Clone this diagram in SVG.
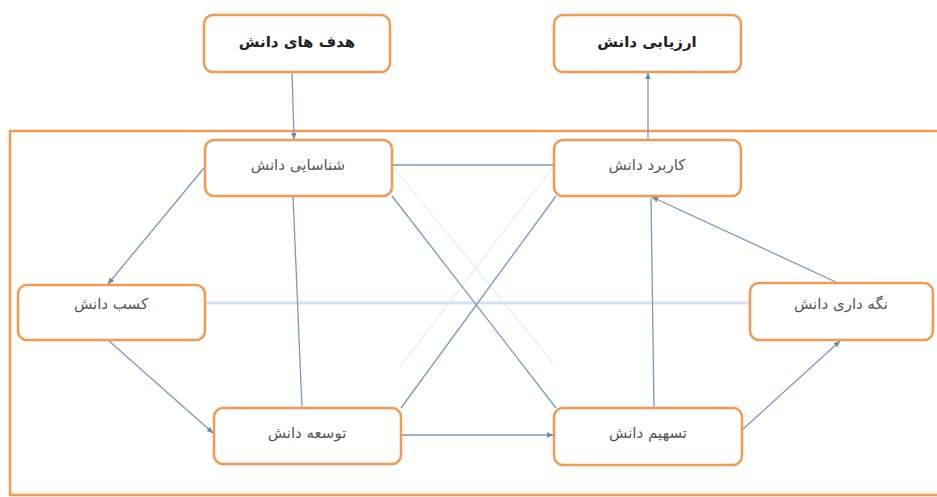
<svg xmlns="http://www.w3.org/2000/svg" width="937" height="497" viewBox="0 0 937 497">
<style>
.box{fill:#ffffff;stroke:#f29a52;stroke-width:2.5}
.t{font-family:"DejaVu Sans",sans-serif;font-size:15px;fill:#555555;text-anchor:middle}
.tb{font-family:"DejaVu Sans",sans-serif;font-size:15px;font-weight:bold;fill:#222222;text-anchor:middle}
.c{stroke:#7d97c2;stroke-width:1.3;fill:none}
.faint{stroke:#eceef2;stroke-width:1.5;fill:none}
.pale{stroke:#d3e3ee;stroke-width:3;fill:none}
</style>
<defs>
<marker id="ah" viewBox="0 0 10 10" refX="9" refY="5" markerWidth="7" markerHeight="7" orient="auto" markerUnits="userSpaceOnUse">
<path d="M0,1 L10,5 L0,9 z" fill="#6f86ad"/>
</marker>
</defs>
<rect x="0" y="0" width="937" height="497" fill="#ffffff"/>
<path d="M937,131 H10 V495 H937" fill="none" stroke="#f29a52" stroke-width="2.5"/>
<g id="connectors">
<line class="faint" x1="393" y1="167" x2="553" y2="363"/>
<line class="faint" x1="553" y1="167" x2="400" y2="367"/>
<line class="pale" x1="205" y1="303" x2="750" y2="303"/>
<line class="c" x1="292" y1="72" x2="294" y2="139" marker-end="url(#ah)"/>
<line class="c" x1="648" y1="140" x2="648" y2="73" marker-end="url(#ah)"/>
<line class="c" x1="204" y1="168" x2="108" y2="284" marker-end="url(#ah)"/>
<line class="c" x1="108" y1="340" x2="213" y2="433" marker-end="url(#ah)"/>
<line class="c" x1="401" y1="435" x2="553" y2="435" marker-end="url(#ah)"/>
<line class="c" x1="742" y1="430" x2="840" y2="341" marker-end="url(#ah)"/>
<line class="c" x1="838" y1="283" x2="652" y2="197" marker-end="url(#ah)"/>
<line class="c" x1="654" y1="408" x2="651" y2="198"/>
<line class="c" x1="293" y1="196" x2="302" y2="408"/>
<line class="c" x1="392" y1="165" x2="554" y2="165"/>
<line class="c" x1="392" y1="196" x2="556" y2="408"/>
<line class="c" x1="556" y1="196" x2="401" y2="408"/>
</g>
<g id="n-goals">
<rect class="box" x="204" y="15" width="186" height="57" rx="9"/>
<text class="tb" x="297" y="47">هدف های دانش</text>
</g>
<g id="n-evaluation">
<rect class="box" x="554" y="15" width="187" height="57" rx="9"/>
<text class="tb" x="647" y="47">ارزیابی دانش</text>
</g>
<g id="n-identification">
<rect class="box" x="205" y="140" width="187" height="56" rx="9"/>
<text class="t" x="298" y="170">شناسایی دانش</text>
</g>
<g id="n-application">
<rect class="box" x="554" y="140" width="187" height="56" rx="9"/>
<text class="t" x="647" y="170">کاربرد دانش</text>
</g>
<g id="n-acquisition">
<rect class="box" x="18" y="285" width="187" height="55" rx="9"/>
<text class="t" x="111" y="309">کسب دانش</text>
</g>
<g id="n-retention">
<rect class="box" x="750" y="283" width="183" height="57" rx="9"/>
<text class="t" x="841" y="309">نگه داری دانش</text>
</g>
<g id="n-development">
<rect class="box" x="214" y="408" width="187" height="56" rx="9"/>
<text class="t" x="307" y="438">توسعه دانش</text>
</g>
<g id="n-sharing">
<rect class="box" x="554" y="408" width="188" height="57" rx="9"/>
<text class="t" x="648" y="438">تسهیم دانش</text>
</g>
</svg>
